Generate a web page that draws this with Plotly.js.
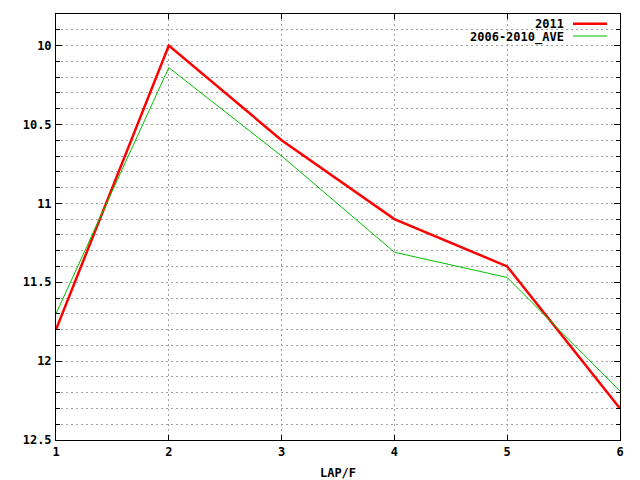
<!DOCTYPE html>
<html>
<head>
<meta charset="utf-8">
<script src="https://cdn.plot.ly/plotly-3.0.1.min.js"></script>
<style>html,body{margin:0;padding:0;background:#fff}#chart{width:640px;height:480px}</style>
</head>
<body>
<div id="chart"></div>
<script>
const laps = [1, 2, 3, 4, 5, 6];
const series2011 = [11.8, 10.0, 10.6, 11.1, 11.4, 12.3];
const seriesAve = [11.7, 10.14, 10.7, 11.31, 11.47, 12.19];
const seriesNames = ["2011", "2006-2010_AVE"];
const seriesColors = ["#ff0000", "#00c000"];
const yTickVals = [10, 10.5, 11, 11.5, 12, 12.5];
const yTickText = ["10", "10.5", "11", "11.5", "12", "12.5"];
const xTickVals = [1, 2, 3, 4, 5, 6];
const xTitle = "LAP/F";

const font = {family: "DejaVu Sans Mono, monospace", size: 12, color: "#000", weight: "bold"};

const traces = [
  {x: laps, y: series2011, mode: "lines", name: seriesNames[0], line: {color: seriesColors[0], width: 2.5}},
  {x: laps, y: seriesAve, mode: "lines", name: seriesNames[1], line: {color: seriesColors[1], width: 1}}
];

const gridStyle = {showgrid: true, gridcolor: "#a0a0a0", griddash: "2px,3px", gridwidth: 1};

const layout = {
  width: 640, height: 480,
  margin: {l: 56, r: 20, t: 14, b: 40},
  paper_bgcolor: "#fff", plot_bgcolor: "#fff",
  showlegend: false,
  font: font,
  xaxis: Object.assign({
    range: [1, 6], tickvals: xTickVals, ticktext: xTickVals.map(String),
    ticks: "inside", ticklen: 5, tickcolor: "#000", mirror: "allticks",
    showline: true, linecolor: "#000", linewidth: 1, zeroline: false,
    tickfont: font, ticklabelstandoff: 1, title: {text: xTitle, font: font, standoff: 10}
  }, gridStyle),
  yaxis: Object.assign({
    range: [12.5, 9.8], tickvals: yTickVals, ticktext: yTickText,
    ticks: "inside", ticklen: 6, tickcolor: "#000", mirror: "allticks",
    showline: true, linecolor: "#000", linewidth: 1, zeroline: false,
    tickfont: font, ticklabelstandoff: 1,
    minor: {dtick: 0.1, tick0: 10, ticks: "inside", ticklen: 4, tickcolor: "#000",
            showgrid: true, gridcolor: "#a0a0a0", griddash: "2px,3px", gridwidth: 1}
  }, gridStyle),
  annotations: [
    {xref: "paper", yref: "paper", x: (566 - 56) / 564, y: 1 - (24 - 14) / 426, xanchor: "right", yanchor: "middle",
     text: seriesNames[0], showarrow: false, font: font},
    {xref: "paper", yref: "paper", x: (566 - 56) / 564, y: 1 - (37 - 14) / 426, xanchor: "right", yanchor: "middle",
     text: seriesNames[1], showarrow: false, font: font}
  ],
  shapes: [
    {type: "line", xref: "paper", yref: "paper", x0: (573 - 56) / 564, x1: (607 - 56) / 564,
     y0: 1 - (23.7 - 14) / 426, y1: 1 - (23.7 - 14) / 426, line: {color: seriesColors[0], width: 2.5}},
    {type: "line", xref: "paper", yref: "paper", x0: (573 - 56) / 564, x1: (607 - 56) / 564,
     y0: 1 - (36 - 14) / 426, y1: 1 - (36 - 14) / 426, line: {color: seriesColors[1], width: 1}}
  ]
};

Plotly.newPlot("chart", traces, layout, {displayModeBar: false, staticPlot: true});
</script>
</body>
</html>
